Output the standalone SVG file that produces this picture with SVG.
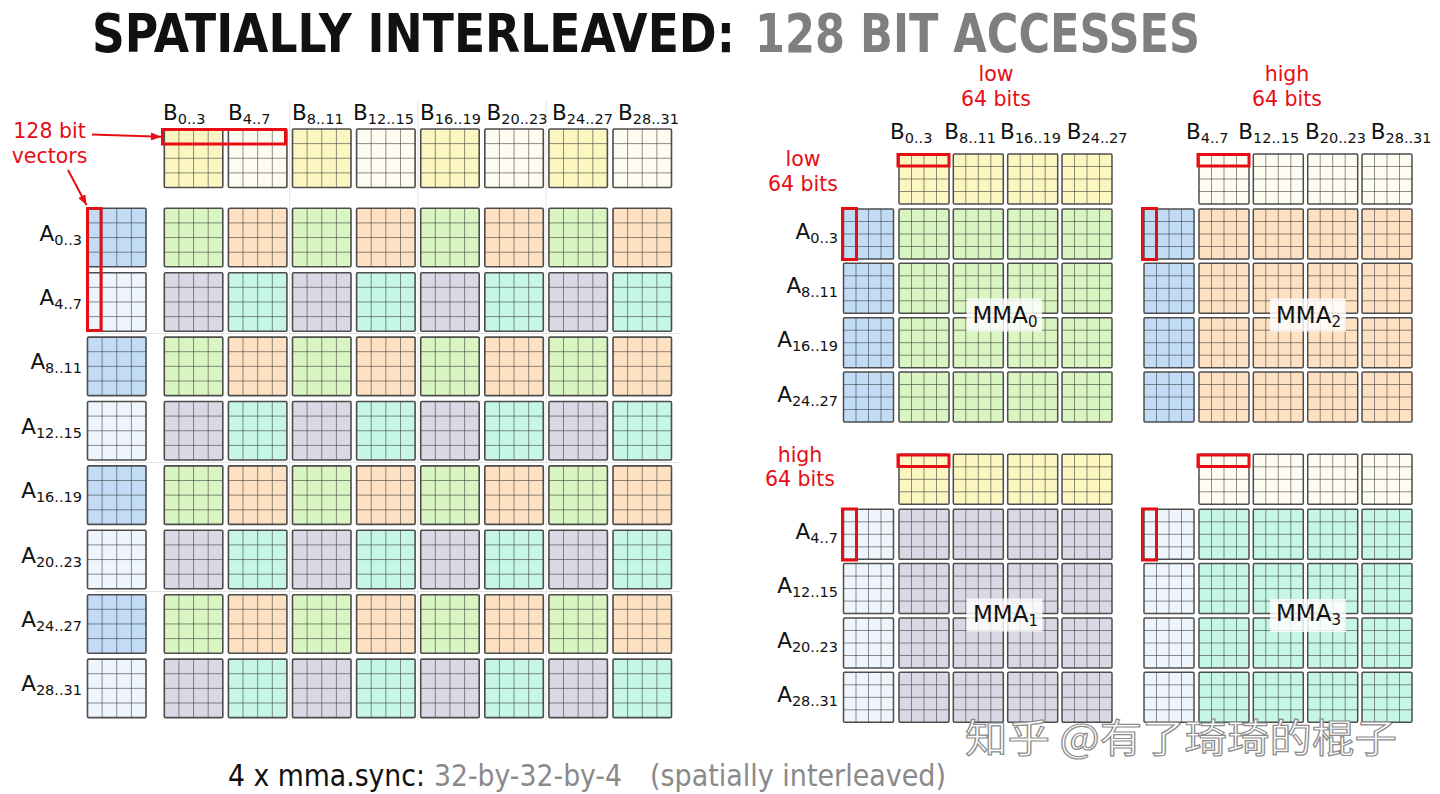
<svg xmlns="http://www.w3.org/2000/svg" width="1440" height="794" viewBox="0 0 1440 794">
<style>
.g{fill:#d9f5c1}.o{fill:#fde1c2}.p{fill:#dcd7e5}.t{fill:#c5f6e6}
.b{fill:#c2dcf6}.l{fill:#eef5fc}.y{fill:#fcf6c1}.c{fill:#fefcf1}
.lab{font-family:"DejaVu Sans",Verdana,sans-serif;font-size:21.5px;fill:#111}
.sub{font-size:14.5px}
.red{font-family:"DejaVu Sans",Verdana,sans-serif;font-size:20.5px;fill:#e60d14;text-anchor:middle}
.rb{fill:none;stroke:#e60d14;stroke-width:3}
.sep{stroke:#e4e4e4;stroke-width:1}
.mbox{fill:#fff;fill-opacity:0.82}
.mma{font-family:"DejaVu Sans",Verdana,sans-serif;font-size:23px;fill:#111}
.arrow{stroke:#e60d14;stroke-width:2;fill:none}
</style>
<defs>
<g id="T58"><rect width="58.5" height="58.5" rx="1.2" stroke="#4d4d4d" stroke-width="1.6"/><path d="M14.6 0V58.5M29.25 0V58.5M43.9 0V58.5M0 14.6H58.5M0 29.25H58.5M0 43.9H58.5" fill="none" stroke="#333" stroke-opacity="0.55" stroke-width="1"/></g>
<g id="T50"><rect width="50" height="50" rx="1.2" stroke="#4d4d4d" stroke-width="1.5"/><path d="M12.5 0V50M25 0V50M37.5 0V50M0 12.5H50M0 25H50M0 37.5H50" fill="none" stroke="#333" stroke-opacity="0.55" stroke-width="1"/></g>
<g id="rowGO"><use href="#T58" x="164.3" class="g"/><use href="#T58" x="228.4" class="o"/><use href="#T58" x="292.5" class="g"/><use href="#T58" x="356.6" class="o"/><use href="#T58" x="420.7" class="g"/><use href="#T58" x="484.8" class="o"/><use href="#T58" x="548.9" class="g"/><use href="#T58" x="613" class="o"/></g>
<g id="rowPT"><use href="#T58" x="164.3" class="p"/><use href="#T58" x="228.4" class="t"/><use href="#T58" x="292.5" class="p"/><use href="#T58" x="356.6" class="t"/><use href="#T58" x="420.7" class="p"/><use href="#T58" x="484.8" class="t"/><use href="#T58" x="548.9" class="p"/><use href="#T58" x="613" class="t"/></g>
<g id="r4g"><use href="#T50" x="0" class="g"/><use href="#T50" x="54.3" class="g"/><use href="#T50" x="108.7" class="g"/><use href="#T50" x="163" class="g"/></g>
<g id="r4o"><use href="#T50" x="0" class="o"/><use href="#T50" x="54.3" class="o"/><use href="#T50" x="108.7" class="o"/><use href="#T50" x="163" class="o"/></g>
<g id="r4p"><use href="#T50" x="0" class="p"/><use href="#T50" x="54.3" class="p"/><use href="#T50" x="108.7" class="p"/><use href="#T50" x="163" class="p"/></g>
<g id="r4t"><use href="#T50" x="0" class="t"/><use href="#T50" x="54.3" class="t"/><use href="#T50" x="108.7" class="t"/><use href="#T50" x="163" class="t"/></g>
<g id="r4y"><use href="#T50" x="0" class="y"/><use href="#T50" x="54.3" class="y"/><use href="#T50" x="108.7" class="y"/><use href="#T50" x="163" class="y"/></g>
<g id="r4c"><use href="#T50" x="0" class="c"/><use href="#T50" x="54.3" class="c"/><use href="#T50" x="108.7" class="c"/><use href="#T50" x="163" class="c"/></g>
<marker id="ah" viewBox="0 0 10 8" refX="10" refY="4" markerWidth="10" markerHeight="8" markerUnits="userSpaceOnUse" orient="auto"><path d="M0 0L10 4L0 8Z" fill="#e60d14"/></marker>
</defs>
<rect width="1440" height="794" fill="#fff"/>

<g id="title">
<text x="92" y="52" font-family="'DejaVu Sans Condensed','DejaVu Sans',sans-serif" font-weight="bold" font-size="53" fill="#111" textLength="643" lengthAdjust="spacingAndGlyphs">SPATIALLY INTERLEAVED:</text>
<text x="755" y="52" font-family="'DejaVu Sans Condensed','DejaVu Sans',sans-serif" font-weight="bold" font-size="53" fill="#7f7f7f" textLength="445" lengthAdjust="spacingAndGlyphs">128 BIT ACCESSES</text>
</g>

<g id="separators">
<line class="sep" x1="289.7" y1="100" x2="289.7" y2="720"/>
<line class="sep" x1="417.9" y1="100" x2="417.9" y2="720"/>
<line class="sep" x1="546.1" y1="100" x2="546.1" y2="720"/>
<line class="sep" x1="95" y1="333.5" x2="680" y2="333.5"/>
<line class="sep" x1="95" y1="462.5" x2="680" y2="462.5"/>
<line class="sep" x1="95" y1="591.5" x2="680" y2="591.5"/>
</g>

<g id="left-B">
<use href="#T58" x="164.3" y="129" class="y"/><use href="#T58" x="228.4" y="129" class="c"/><use href="#T58" x="292.5" y="129" class="y"/><use href="#T58" x="356.6" y="129" class="c"/><use href="#T58" x="420.7" y="129" class="y"/><use href="#T58" x="484.8" y="129" class="c"/><use href="#T58" x="548.9" y="129" class="y"/><use href="#T58" x="613" y="129" class="c"/>
</g>
<g id="left-A">
<use href="#T58" x="87.5" y="208.3" class="b"/><use href="#T58" x="87.5" y="272.7" class="l"/><use href="#T58" x="87.5" y="337.1" class="b"/><use href="#T58" x="87.5" y="401.5" class="l"/><use href="#T58" x="87.5" y="465.9" class="b"/><use href="#T58" x="87.5" y="530.3" class="l"/><use href="#T58" x="87.5" y="594.7" class="b"/><use href="#T58" x="87.5" y="659.1" class="l"/>
</g>
<g id="left-C">
<use href="#rowGO" y="208.3"/><use href="#rowPT" y="272.7"/><use href="#rowGO" y="337.1"/><use href="#rowPT" y="401.5"/><use href="#rowGO" y="465.9"/><use href="#rowPT" y="530.3"/><use href="#rowGO" y="594.7"/><use href="#rowPT" y="659.1"/>
</g>
<g id="left-B-labels" class="lab">
<text x="163" y="120">B<tspan class="sub" dy="3.5">0..3</tspan></text>
<text x="228" y="120">B<tspan class="sub" dy="3.5">4..7</tspan></text>
<text x="292" y="120">B<tspan class="sub" dy="3.5">8..11</tspan></text>
<text x="353" y="120">B<tspan class="sub" dy="3.5">12..15</tspan></text>
<text x="420" y="120">B<tspan class="sub" dy="3.5">16..19</tspan></text>
<text x="486.5" y="120">B<tspan class="sub" dy="3.5">20..23</tspan></text>
<text x="552" y="120">B<tspan class="sub" dy="3.5">24..27</tspan></text>
<text x="618" y="120">B<tspan class="sub" dy="3.5">28..31</tspan></text>
</g>
<g id="left-A-labels" class="lab" text-anchor="end">
<text x="82" y="240.5">A<tspan class="sub" dy="4">0..3</tspan></text>
<text x="82" y="305">A<tspan class="sub" dy="4">4..7</tspan></text>
<text x="82" y="369.3">A<tspan class="sub" dy="4">8..11</tspan></text>
<text x="82" y="433.7">A<tspan class="sub" dy="4">12..15</tspan></text>
<text x="82" y="498">A<tspan class="sub" dy="4">16..19</tspan></text>
<text x="82" y="562.5">A<tspan class="sub" dy="4">20..23</tspan></text>
<text x="82" y="627">A<tspan class="sub" dy="4">24..27</tspan></text>
<text x="82" y="691.3">A<tspan class="sub" dy="4">28..31</tspan></text>
</g>
<g id="left-highlight">
<rect class="rb" x="162.5" y="129.5" width="123" height="14.5"/>
<rect class="rb" x="87.5" y="208.5" width="13.5" height="122"/>
</g>
<g id="vectors-label" class="red">
<text x="49.5" y="138">128 bit</text>
<text x="49.5" y="163">vectors</text>
</g>

<g id="mma0">
<use href="#r4y" x="899" y="154"/>
<use href="#T50" x="843.5" y="209" class="b"/><use href="#T50" x="843.5" y="263.3" class="b"/><use href="#T50" x="843.5" y="317.7" class="b"/><use href="#T50" x="843.5" y="372" class="b"/>
<use href="#r4g" x="899" y="209"/><use href="#r4g" x="899" y="263.3"/><use href="#r4g" x="899" y="317.7"/><use href="#r4g" x="899" y="372"/>
<rect class="rb" x="898" y="154.5" width="51" height="11.5"/>
<rect class="rb" x="842.5" y="208.5" width="14" height="51"/>
<rect class="mbox" x="966.5" y="298.5" width="75.5" height="33"/>
<text class="mma" x="972.5" y="322.5">MMA<tspan font-size="15" dy="4">0</tspan></text>
</g>
<g id="mma2">
<use href="#r4c" x="1199" y="154"/>
<use href="#T50" x="1144" y="209" class="b"/><use href="#T50" x="1144" y="263.3" class="b"/><use href="#T50" x="1144" y="317.7" class="b"/><use href="#T50" x="1144" y="372" class="b"/>
<use href="#r4o" x="1199" y="209"/><use href="#r4o" x="1199" y="263.3"/><use href="#r4o" x="1199" y="317.7"/><use href="#r4o" x="1199" y="372"/>
<rect class="rb" x="1198" y="154.5" width="51" height="11.5"/>
<rect class="rb" x="1142.5" y="208.5" width="14" height="51"/>
<rect class="mbox" x="1270" y="298.5" width="76" height="33"/>
<text class="mma" x="1276" y="322.5">MMA<tspan font-size="15" dy="4">2</tspan></text>
</g>
<g id="mma1">
<use href="#r4y" x="899" y="454.3"/>
<use href="#T50" x="843.5" y="509.3" class="l"/><use href="#T50" x="843.5" y="563.6" class="l"/><use href="#T50" x="843.5" y="618" class="l"/><use href="#T50" x="843.5" y="672.3" class="l"/>
<use href="#r4p" x="899" y="509.3"/><use href="#r4p" x="899" y="563.6"/><use href="#r4p" x="899" y="618"/><use href="#r4p" x="899" y="672.3"/>
<rect class="rb" x="898" y="455" width="51" height="11.5"/>
<rect class="rb" x="842.5" y="509" width="14" height="51"/>
<rect class="mbox" x="966.5" y="598.5" width="76" height="33"/>
<text class="mma" x="973" y="621.5">MMA<tspan font-size="15" dy="4">1</tspan></text>
</g>
<g id="mma3">
<use href="#r4c" x="1199" y="454.3"/>
<use href="#T50" x="1144" y="509.3" class="l"/><use href="#T50" x="1144" y="563.6" class="l"/><use href="#T50" x="1144" y="618" class="l"/><use href="#T50" x="1144" y="672.3" class="l"/>
<use href="#r4t" x="1199" y="509.3"/><use href="#r4t" x="1199" y="563.6"/><use href="#r4t" x="1199" y="618"/><use href="#r4t" x="1199" y="672.3"/>
<rect class="rb" x="1198" y="455" width="51" height="11.5"/>
<rect class="rb" x="1142.5" y="509" width="14" height="51"/>
<rect class="mbox" x="1270" y="599" width="76" height="33"/>
<text class="mma" x="1276" y="620.5">MMA<tspan font-size="15" dy="4">3</tspan></text>
</g>

<g id="right-B-labels" class="lab">
<text x="890" y="139">B<tspan class="sub" dy="3.5">0..3</tspan></text>
<text x="944.3" y="139">B<tspan class="sub" dy="3.5">8..11</tspan></text>
<text x="1000" y="139">B<tspan class="sub" dy="3.5">16..19</tspan></text>
<text x="1066.7" y="139">B<tspan class="sub" dy="3.5">24..27</tspan></text>
<text x="1186" y="139">B<tspan class="sub" dy="3.5">4..7</tspan></text>
<text x="1238.3" y="139">B<tspan class="sub" dy="3.5">12..15</tspan></text>
<text x="1305" y="139">B<tspan class="sub" dy="3.5">20..23</tspan></text>
<text x="1370.7" y="139">B<tspan class="sub" dy="3.5">28..31</tspan></text>
</g>
<g id="right-A-labels" class="lab" text-anchor="end">
<text x="838" y="238.5">A<tspan class="sub" dy="4">0..3</tspan></text>
<text x="838" y="293">A<tspan class="sub" dy="4">8..11</tspan></text>
<text x="838" y="347">A<tspan class="sub" dy="4">16..19</tspan></text>
<text x="838" y="401.5">A<tspan class="sub" dy="4">24..27</tspan></text>
<text x="838" y="538.8">A<tspan class="sub" dy="4">4..7</tspan></text>
<text x="838" y="593">A<tspan class="sub" dy="4">12..15</tspan></text>
<text x="838" y="647.5">A<tspan class="sub" dy="4">20..23</tspan></text>
<text x="838" y="701.8">A<tspan class="sub" dy="4">28..31</tspan></text>
</g>
<g id="half-labels" class="red">
<text x="996" y="81">low</text><text x="996" y="106">64 bits</text>
<text x="1287" y="81">high</text><text x="1287" y="106">64 bits</text>
<text x="803" y="166">low</text><text x="803" y="191">64 bits</text>
<text x="800" y="462">high</text><text x="800" y="486">64 bits</text>
</g>

<g id="connectors">
<line class="arrow" x1="92" y1="134.5" x2="161" y2="136.8" marker-end="url(#ah)"/>
<line class="arrow" x1="68" y1="170" x2="86.5" y2="205" marker-end="url(#ah)"/>
</g>

<g id="caption" font-family="'DejaVu Sans Condensed','DejaVu Sans',sans-serif" font-size="29.5">
<text x="228" y="786" fill="#111" textLength="197" lengthAdjust="spacingAndGlyphs">4 x mma.sync:</text>
<text x="434" y="786" fill="#8a8a8a" textLength="188" lengthAdjust="spacingAndGlyphs">32-by-32-by-4</text>
<text x="650" y="786" fill="#8a8a8a" textLength="296" lengthAdjust="spacingAndGlyphs">(spatially interleaved)</text>
</g>

<g id="watermark">
<text x="965" y="752" font-family="'Noto Sans CJK SC',sans-serif" font-size="39" fill="#fff" stroke="#8c8c8c" stroke-width="1.2" textLength="432" lengthAdjust="spacingAndGlyphs">知乎 @有了琦琦的棍子</text>
</g>
</svg>
